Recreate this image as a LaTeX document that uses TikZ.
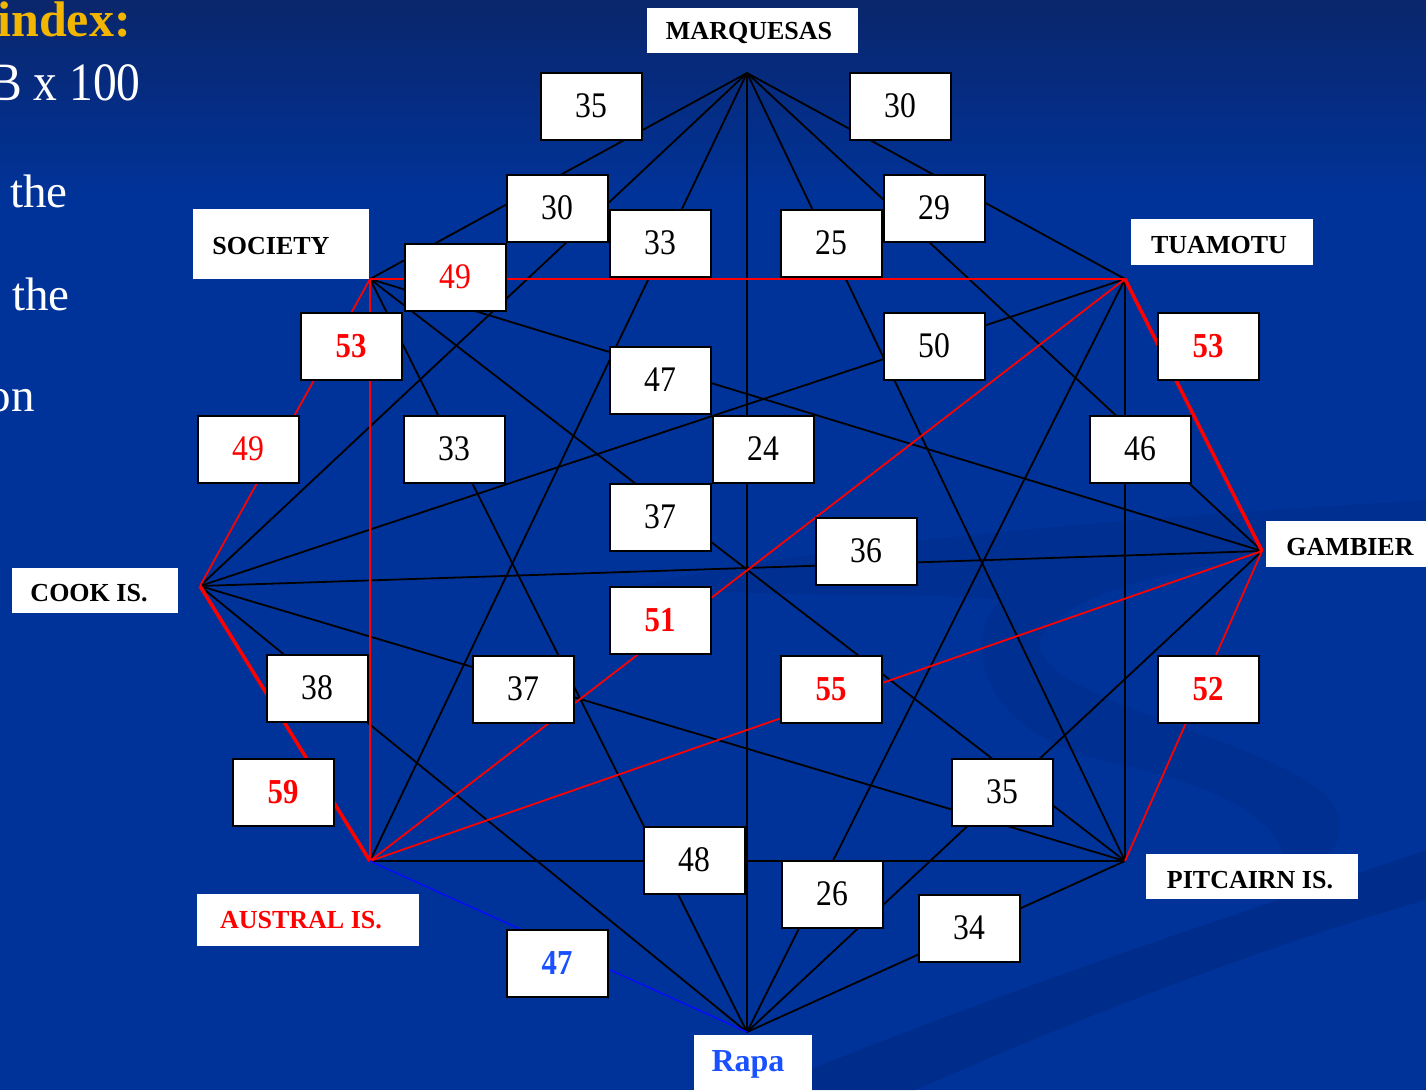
\documentclass[tikz,border=0pt]{standalone}
\usepackage{fontspec}
\setmainfont{Liberation Serif}
\newfontfamily\numfont[FakeStretch=0.88]{Liberation Serif}
\definecolor{bgblue}{RGB}{0,51,153}
\definecolor{topblue}{RGB}{10,38,108}
\definecolor{dkblue}{RGB}{0,40,130}
\definecolor{goldtxt}{RGB}{242,182,0}
\definecolor{rapablue}{RGB}{25,80,255}
\definecolor{linkblue}{RGB}{10,10,255}
\begin{document}
\begin{tikzpicture}[x=1pt,y=-1pt,
  blk/.style={line width=1.8pt, black},
  redl/.style={line width=1.8pt, red},
  redthick/.style={line width=3.6pt, red},
  bluel/.style={line width=1.4pt, linkblue},
  numbox/.style={draw=black, line width=2pt, fill=white, minimum width=101pt, minimum height=67pt, inner sep=0pt, font=\numfont\fontsize{36}{40}\selectfont, text=black},
  rednum/.style={numbox, text=red, font=\numfont\fontsize{35}{40}\selectfont\bfseries},
  redplain/.style={numbox, text=red},
  bluenum/.style={numbox, text=rapablue, font=\numfont\fontsize{35}{40}\selectfont\bfseries},
  vbox/.style={fill=white, inner sep=0pt},
  vtext/.style={inner sep=0pt, font=\fontsize{26}{30}\selectfont\bfseries, text=black},
  sidetxt/.style={inner sep=0pt, font=\fontsize{47}{50}\selectfont, text=white}
]
\useasboundingbox (0,0) rectangle (1426,1090);
\clip (0,0) rectangle (1426,1090);
% background
\fill[bgblue] (0,0) rectangle (1426,1090);
\shade[top color=topblue, bottom color=bgblue] (0,0) rectangle (1426,200);
\fill[dkblue, opacity=0.55] (760,1090) .. controls (1000,990) and (1250,910) .. (1426,850) -- (1426,900) .. controls (1250,950) and (1050,1030) .. (916,1090) -- cycle;
\fill[dkblue, opacity=0.3] (640,585) .. controls (850,540) and (1100,520) .. (1426,500) -- (1426,540) .. controls (1150,560) and (1060,600) .. (1040,640) .. controls (1030,700) and (1280,740) .. (1330,800) .. controls (1360,840) and (1320,870) .. (1280,880) .. controls (1300,840) and (1250,790) .. (1100,760) .. controls (980,730) and (960,640) .. (1000,600) .. controls (900,590) and (760,600) .. (640,585) -- cycle;

% left slide text (cut off at the edge as in the slide)
\node[sidetxt, anchor=base east, text=goldtxt, font=\fontsize{50}{54}\selectfont\bfseries] (tindex) at (131,36) {index:};
\node[sidetxt, anchor=base east, font=\numfont\fontsize{54}{58}\selectfont] (tformula) at (141,100) {B x 100};
\node[sidetxt, anchor=base west] (tthe1) at (10,207) {the};
\node[sidetxt, anchor=base west] (tthe2) at (12,310) {the};
\node[sidetxt, anchor=base east] (ton) at (35,411) {on};

% vertices
\coordinate (M) at (747,73);
\coordinate (T) at (1125,279);
\coordinate (G) at (1262,551);
\coordinate (P) at (1125,861);
\coordinate (R) at (747,1032);
\coordinate (A) at (370,861);
\coordinate (C) at (200,586);
\coordinate (S) at (370,279);

% black edges
\draw[blk] (M) -- (S);
\draw[blk] (M) -- (C);
\draw[blk] (M) -- (A);
\draw[blk] (M) -- (R);
\draw[blk] (M) -- (P);
\draw[blk] (M) -- (G);
\draw[blk] (M) -- (T);
\draw[blk] (S) -- (G);
\draw[blk] (S) -- (P);
\draw[blk] (S) -- (R);
\draw[blk] (C) -- (T);
\draw[blk] (C) -- (G);
\draw[blk] (C) -- (P);
\draw[blk] (C) -- (R);
\draw[blk] (A) -- (P);
\draw[blk] (R) -- (T);
\draw[blk] (R) -- (G);
\draw[blk] (R) -- (P);
\draw[blk] (P) -- (T);
% coloured edges
\draw[redl] (S) -- (T);
\draw[redl] (S) -- (A);
\draw[redl] (S) -- (C);
\draw[redl] (A) -- (T);
\draw[redl] (A) -- (G);
\draw[redl] (P) -- (G);
\draw[redthick] (C) -- (A);
\draw[redthick] (T) -- (G);
\draw[bluel] (A) -- (R);

% edge labels
\node[numbox] (n35a) at (591,106) {35};
\node[numbox] (n30b) at (900,106) {30};
\node[numbox] (n30a) at (557,208) {30};
\node[numbox] (n29) at (934,208) {29};
\node[numbox] (n33a) at (660,243) {33};
\node[numbox] (n25) at (831,243) {25};
\node[redplain] (n49a) at (455,277) {49};
\node[rednum] (n53a) at (351,346) {53};
\node[numbox] (n50) at (934,346) {50};
\node[rednum] (n53b) at (1208,346) {53};
\node[numbox] (n47a) at (660,380) {47};
\node[redplain] (n49b) at (248,449) {49};
\node[numbox] (n33b) at (454,449) {33};
\node[numbox] (n24) at (763,449) {24};
\node[numbox] (n46) at (1140,449) {46};
\node[numbox] (n37a) at (660,517) {37};
\node[numbox] (n36) at (866,551) {36};
\node[rednum] (n51) at (660,620) {51};
\node[numbox] (n38) at (317,688) {38};
\node[numbox] (n37b) at (523,689) {37};
\node[rednum] (n55) at (831,689) {55};
\node[rednum] (n52) at (1208,689) {52};
\node[rednum] (n59) at (283,792) {59};
\node[numbox] (n35b) at (1002,792) {35};
\node[numbox] (n48) at (694,860) {48};
\node[numbox] (n26) at (832,894) {26};
\node[numbox] (n34) at (969,928) {34};
\node[bluenum] (n47b) at (557,963) {47};

% vertex labels
\node[vbox, minimum width=211pt, minimum height=45pt] (bM) at (752,30) {};
\node[vtext] (lM) at (749,33) {MARQUESAS};
\node[vbox, minimum width=176pt, minimum height=70pt] (bS) at (281,244) {};
\node[vtext] (lS) at (271,246) {SOCIETY};
\node[vbox, minimum width=182pt, minimum height=46pt] (bT) at (1222,242) {};
\node[vtext] (lT) at (1219,245) {TUAMOTU};
\node[vbox, minimum width=162pt, minimum height=46pt] (bG) at (1347,544) {};
\node[vtext] (lG) at (1350,547) {GAMBIER};
\node[vbox, minimum width=166pt, minimum height=45pt] (bC) at (95,590) {};
\node[vtext] (lC) at (89,593) {COOK IS.};
\node[vbox, minimum width=212pt, minimum height=45pt] (bP) at (1252,876) {};
\node[vtext] (lP) at (1250,880) {PITCAIRN IS.};
\node[vbox, minimum width=222pt, minimum height=52pt] (bA) at (308,920) {};
\node[vtext, text=red] (lA) at (301,920) {AUSTRAL IS.};
\node[vbox, minimum width=118pt, minimum height=56pt] (bR) at (753,1063) {};
\node[vtext, text=rapablue, font=\fontsize{32}{36}\selectfont\bfseries] (lR) at (748,1064) {Rapa};
\end{tikzpicture}
\end{document}
